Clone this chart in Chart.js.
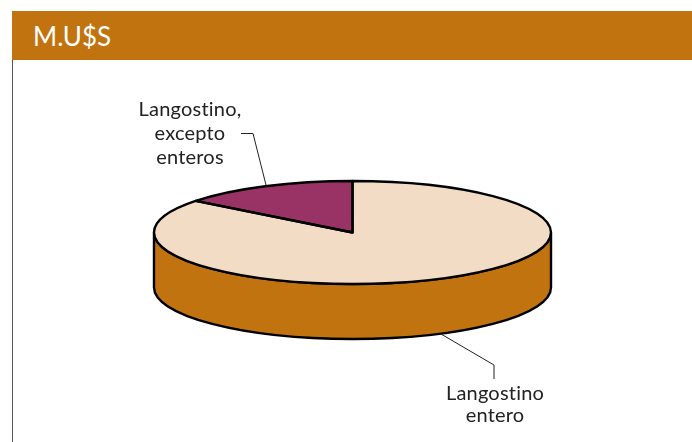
<!DOCTYPE html>
<html>
<head>
<meta charset="utf-8">
<title>M.U$S</title>
<script src="https://cdn.jsdelivr.net/npm/chart.js@4"></script>
<style>
  body { margin: 0; background: #fff; overflow: hidden; }
  #wrap { position: relative; width: 692px; height: 442px; }
  #band {
    position: absolute; left: 12px; top: 11px; width: 680px; height: 49px;
    background: #c1730f; color: #fff;
    font: 26px Lato, sans-serif; line-height: 50px; text-indent: 21px;
  }
  #rule { position: absolute; left: 12px; top: 60px; width: 1px; height: 382px; background: #555; }
  canvas { position: absolute; left: 0; top: 0; }
</style>
</head>
<body>
<div id="wrap">
  <div id="band">M.U$S</div>
  <div id="rule"></div>
  <canvas id="pie" width="692" height="442"></canvas>
</div>
<script>
const categories = ['Langostino entero', 'Langostino, excepto enteros'];
const shares = [85.5, 14.5];
const topColors = ['#f3dcc5', '#993366'];
const sideColors = ['#c1730f', '#7a2850'];

// wrapped text of the two callouts
const calloutLines = [['Langostino', 'entero'], ['Langostino,', 'excepto', 'enteros']];

const tilt = 51.5 / 198.5;
const depth = 55;

const pie3d = {
  id: 'pie3d',
  beforeDatasetsDraw(chart) {
    const ctx = chart.ctx;
    const arcs = chart.getDatasetMeta(0).data;
    const { x, y, outerRadius: r } = arcs[0];
    const ry = r * tilt;

    // wall below the front half of the top face
    arcs.forEach((arc, i) => {
      const s = Math.max(arc.startAngle, 0);
      const e = Math.min(arc.endAngle, Math.PI);
      if (e <= s) return;
      ctx.beginPath();
      ctx.ellipse(x, y, r, ry, 0, s, e);
      ctx.ellipse(x, y + depth, r, ry, 0, e, s, true);
      ctx.closePath();
      ctx.fillStyle = sideColors[i];
      ctx.fill();
      ctx.lineWidth = 2.4;
      ctx.strokeStyle = '#000';
      ctx.stroke();
    });

    // flatten the library's own circle into the top face
    ctx.save();
    ctx.translate(x, y);
    ctx.scale(1, tilt);
    ctx.translate(-x, -y);
  },
  afterDatasetsDraw(chart) {
    const ctx = chart.ctx;
    ctx.restore();
    const arcs = chart.getDatasetMeta(0).data;
    const { x, y, outerRadius: r } = arcs[0];
    const ry = r * tilt;

    ctx.lineWidth = 2.4;
    ctx.strokeStyle = '#000';
    ctx.lineJoin = 'round';
    arcs.forEach(arc => {
      ctx.beginPath();
      ctx.moveTo(x, y);
      ctx.ellipse(x, y, r, ry, 0, arc.startAngle, arc.endAngle);
      ctx.closePath();
      ctx.stroke();
    });

    // callouts
    ctx.lineWidth = 1;
    ctx.strokeStyle = '#222';
    ctx.beginPath();
    ctx.moveTo(241, 133.5);
    ctx.lineTo(253, 133.5);
    ctx.lineTo(266, 185);
    ctx.moveTo(441, 334);
    ctx.lineTo(494, 365);
    ctx.lineTo(494, 379);
    ctx.stroke();

    ctx.fillStyle = '#222';
    ctx.font = '20px Lato, sans-serif';
    ctx.letterSpacing = '0.2px'; // also drops Lato's "ti" ligature
    ctx.textAlign = 'center';
    ctx.textBaseline = 'alphabetic';
    calloutLines[1].forEach((t, i) => ctx.fillText(t, 190, 116 + i * 24));
    calloutLines[0].forEach((t, i) => ctx.fillText(t, 495, 400 + i * 22));
    ctx.letterSpacing = '0px';
  }
};

new Chart(document.getElementById('pie'), {
  type: 'pie',
  data: {
    labels: categories,
    datasets: [{
      data: shares,
      backgroundColor: topColors,
      borderWidth: 0,
      hoverOffset: 0
    }]
  },
  options: {
    responsive: false,
    animation: false,
    layout: { padding: { left: 154, right: 141, top: 34, bottom: 11 } },
    plugins: { legend: { display: false }, tooltip: { enabled: false } }
  },
  plugins: [pie3d]
});
</script>
</body>
</html>
